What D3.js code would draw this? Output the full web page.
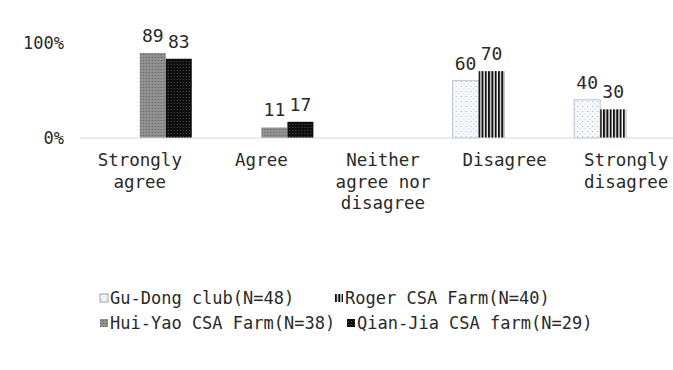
<!DOCTYPE html>
<html>
<head>
<meta charset="utf-8">
<script src="https://cdn.jsdelivr.net/npm/d3@7"></script>
<style>
  html, body { margin: 0; padding: 0; background: #fff; }
  svg text { font-family: "DejaVu Sans Mono", "Liberation Mono", monospace; fill: #2a2a2a; }
</style>
</head>
<body>
<svg id="chart" width="673" height="370"></svg>
<script>
// ---- data ----
const categories = ["Strongly agree", "Agree", "Neither agree nor disagree", "Disagree", "Strongly disagree"];
const categoryLines = [["Strongly", "agree"], ["Agree"], ["Neither", "agree nor", "disagree"], ["Disagree"], ["Strongly", "disagree"]];
const seriesNames = ["Gu-Dong club(N=48)", "Roger CSA Farm(N=40)", "Hui-Yao CSA Farm(N=38)", "Qian-Jia CSA farm(N=29)"];
const guDong = [0, 0, 0, 60, 40];
const roger = [0, 0, 0, 70, 30];
const huiYao = [89, 11, 0, 0, 0];
const qianJia = [83, 17, 0, 0, 0];
const yTicks = [0, 100];
const yTickLabels = ["0%", "100%"];

const seriesValues = [guDong, roger, huiYao, qianJia];
const patternIds = ["pGu", "pRoger", "pHui", "pQian"];

const svg = d3.select("#chart");
const defs = svg.append("defs");

// Gu-Dong: light dotted
const p0 = defs.append("pattern").attr("id", "pGu").attr("patternUnits", "userSpaceOnUse").attr("width", 5).attr("height", 5);
p0.append("rect").attr("width", 5).attr("height", 5).attr("fill", "#f6f8fb");
p0.append("rect").attr("x", 1).attr("y", 1).attr("width", 1).attr("height", 1).attr("fill", "#a9b3bf");
p0.append("rect").attr("x", 3.5).attr("y", 3.5).attr("width", 1).attr("height", 1).attr("fill", "#c9d0d8");
// Roger: vertical black stripes
const p1 = defs.append("pattern").attr("id", "pRoger").attr("patternUnits", "userSpaceOnUse").attr("width", 3.3).attr("height", 4);
p1.append("rect").attr("width", 3.3).attr("height", 4).attr("fill", "#ffffff");
p1.append("rect").attr("width", 2).attr("height", 4).attr("fill", "#111111");
// Hui-Yao: gray dotted
const p2 = defs.append("pattern").attr("id", "pHui").attr("patternUnits", "userSpaceOnUse").attr("width", 3).attr("height", 3);
p2.append("rect").attr("width", 3).attr("height", 3).attr("fill", "#8c8c8c");
p2.append("rect").attr("x", 0).attr("y", 0).attr("width", 1).attr("height", 1).attr("fill", "#6a6a6a");
p2.append("rect").attr("x", 1.5).attr("y", 1.5).attr("width", 1).attr("height", 1).attr("fill", "#a8a8a8");
// Qian-Jia: black dotted
const p3 = defs.append("pattern").attr("id", "pQian").attr("patternUnits", "userSpaceOnUse").attr("width", 3).attr("height", 3);
p3.append("rect").attr("width", 3).attr("height", 3).attr("fill", "#0e0e0e");
p3.append("rect").attr("x", 1).attr("y", 1).attr("width", 1).attr("height", 1).attr("fill", "#4a4a4a");

// ---- scales ----
const x = d3.scaleBand().domain(categories).range([79, 687]).paddingInner(0).paddingOuter(0);
const y = d3.scaleLinear().domain([0, 100]).range([138, 42.5]);
const sub = d3.scaleBand().domain(d3.range(seriesNames.length)).range([-52, 52]).padding(0);

// y axis labels
const yAxis = d3.axisLeft(y).tickValues(yTicks).tickFormat((d, i) => yTickLabels[i]).tickSize(0).tickPadding(0);
const yg = svg.append("g").attr("transform", "translate(64,0)").call(yAxis);
yg.select(".domain").remove();
yg.selectAll("text").style("font-size", "17px").attr("dy", "0.35em")
  .style("font-family", "'DejaVu Sans Mono', monospace").attr("fill", "#2a2a2a");

// bars
const groups = svg.append("g").selectAll("g").data(categories).join("g")
  .attr("transform", d => `translate(${x(d) + x.bandwidth() / 2},0)`);

const barData = (cat, ci) => seriesValues.map((vals, si) => ({ si, v: vals[ci] })).filter(d => d.v > 0);

groups.each(function (cat, ci) {
  const g = d3.select(this);
  const bd = barData(cat, ci);
  g.selectAll("rect").data(bd).join("rect")
    .attr("x", d => sub(d.si))
    .attr("width", sub.bandwidth())
    .attr("y", d => y(d.v))
    .attr("height", d => y(0) - y(d.v))
    .attr("fill", d => `url(#${patternIds[d.si]})`)
    .attr("stroke", d => d.si === 0 ? "#b9c3ce" : "none")
    .attr("stroke-width", 1);
  g.selectAll("text.val").data(bd).join("text").attr("class", "val")
    .attr("x", d => sub(d.si) + sub.bandwidth() / 2)
    .attr("y", d => y(d.v) - 11)
    .attr("text-anchor", "middle")
    .style("font-size", "18px")
    .text(d => d.v);
});

// baseline
svg.append("line").attr("x1", 80).attr("x2", 673).attr("y1", y(0)).attr("y2", y(0))
  .attr("stroke", "#d9d9d9").attr("stroke-width", 1);

// category labels
const xAxis = d3.axisBottom(x).tickSize(0).tickFormat("");
const xg = svg.append("g").attr("transform", `translate(0,${y(0)})`).call(xAxis);
xg.select(".domain").remove();
xg.selectAll(".tick").each(function (d, i) {
  const t = d3.select(this).append("text").attr("text-anchor", "middle").style("font-size", "17.5px").attr("fill", "#2a2a2a");
  categoryLines[i].forEach((ln, li) => {
    t.append("tspan").attr("x", 0).attr("y", 28 + li * 21.5).text(ln);
  });
});

// legend
const legendPos = [[100, 298], [335, 298], [100, 323], [347, 323]];
const lg = svg.append("g").selectAll("g").data(seriesNames).join("g")
  .attr("transform", (d, i) => `translate(${legendPos[i][0]},${legendPos[i][1]})`);
lg.append("rect").attr("x", 0).attr("y", -4).attr("width", 8).attr("height", 8)
  .attr("fill", (d, i) => `url(#${patternIds[i]})`)
  .attr("stroke", (d, i) => i === 0 ? "#9aa5b1" : "none");
lg.append("text").attr("x", 10).attr("y", 0).attr("dy", "0.35em").style("font-size", "17px").text(d => d);
</script>
</body>
</html>
